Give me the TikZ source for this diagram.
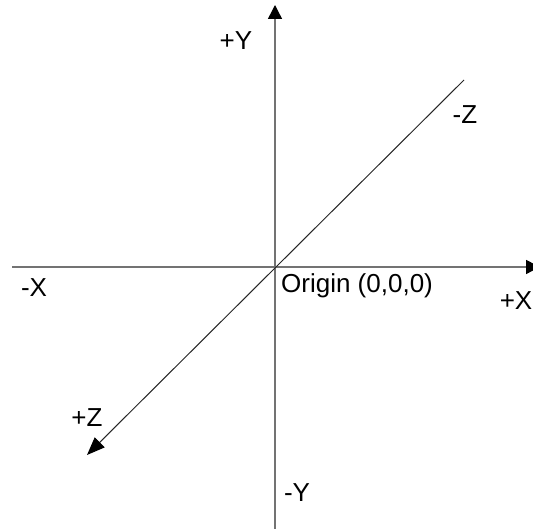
\documentclass[tikz,border=0pt]{standalone}
\usepackage{fontspec}
\setmainfont{Liberation Sans}
\usetikzlibrary{arrows.meta}
\begin{document}
\begin{tikzpicture}[x=1pt,y=1pt,
  axis/.style={draw=black!55,line width=1.4pt},
  diag/.style={draw=black!85,line width=1pt},
  lbl/.style={font=\fontsize{26}{30}\selectfont,inner sep=0pt,anchor=base},
  tip/.style={-{Triangle[length=14pt,width=14pt,fill=black,color=black]}}]
\useasboundingbox (0,0) rectangle (533,529);
\clip (0,0) rectangle (533,529);
% coordinates
\coordinate (ytop) at (275,524);
\coordinate (ybot) at (275,0);
\coordinate (xl) at (12,262);
\coordinate (xr) at (540,262);
\coordinate (zfar) at (464,449);
\coordinate (znear) at (87,74);
% axes
\draw[axis,tip] (ybot) -- (ytop);
\draw[axis,tip] (xl) -- (xr);
\draw[diag,-{Triangle[length=18pt,width=14pt,fill=black,color=black]}] (zfar) -- (znear);
% labels
\node[lbl] (py) at (236,479) {+Y};
\node[lbl] (mz) at (465,405) {-Z};
\node[lbl] (mx) at (34,232) {-X};
\node[lbl,anchor=base west] (org) at (281,236) {Origin (0,0,0)};
\node[lbl,anchor=base east] (px) at (532.5,219) {+X};
\node[lbl] (pz) at (87,102) {+Z};
\node[lbl] (my) at (297,27) {-Y};
\end{tikzpicture}
\end{document}
